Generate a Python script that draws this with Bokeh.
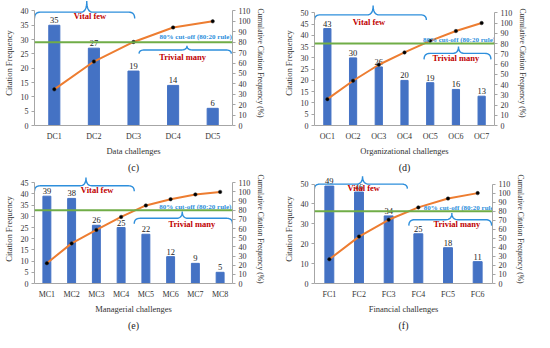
import numpy as np
from bokeh.plotting import figure
from bokeh.models import Range1d, LinearAxis, FixedTicker, Title, FactorRange, Span
from bokeh.layouts import column, row
from bokeh.embed import file_html
from bokeh.resources import INLINE
from bokeh.core.properties import value

# ---------------- data ----------------
dc_cats = ["DC1", "DC2", "DC3", "DC4", "DC5"]
dc_freq = [35, 27, 19, 14, 6]
dc_cum = [34.7, 61.4, 80.2, 94.1, 100]

oc_cats = ["OC1", "OC2", "OC3", "OC4", "OC5", "OC6", "OC7"]
oc_freq = [43, 30, 26, 20, 19, 16, 13]
oc_cum = [25.7, 43.7, 59.3, 71.3, 82.6, 92.2, 100]

mc_cats = ["MC1", "MC2", "MC3", "MC4", "MC5", "MC6", "MC7", "MC8"]
mc_freq = [39, 38, 26, 25, 22, 12, 9, 5]
mc_cum = [22.2, 43.8, 58.5, 72.7, 85.2, 92.0, 97.2, 100]

fc_cats = ["FC1", "FC2", "FC3", "FC4", "FC5", "FC6"]
fc_freq = [49, 46, 34, 25, 18, 11]
fc_cum = [26.8, 51.9, 70.5, 84.2, 94.0, 100]

cutoff = 80
left_ticks_c = [0, 5, 10, 15, 20, 25, 30, 35, 40]
left_ticks_d = [0, 5, 10, 15, 20, 25, 30, 35, 40, 45, 50]
left_ticks_e = [0, 5, 10, 15, 20, 25, 30, 35, 40, 45]
left_ticks_f = [0, 10, 20, 30, 40, 50]
right_ticks = [0, 10, 20, 30, 40, 50, 60, 70, 80, 90, 100, 110]

# ---------------- style ----------------
FONT = "Liberation Serif"
BAR = "#4472C4"
LINE = "#ED7D31"
GREEN = "#70AD47"
BLUE = "#2E8FDC"
RED = "#C00000"
AX = "#A6A6A6"
TXT = "#333333"


def bez(p0, p1, p2, n=10):
    t = np.linspace(0, 1, n)
    x = (1 - t) ** 2 * p0[0] + 2 * (1 - t) * t * p1[0] + t ** 2 * p2[0]
    y = (1 - t) ** 2 * p0[1] + 2 * (1 - t) * t * p1[1] + t ** 2 * p2[1]
    return list(x), list(y)


def brace(x0, x1, xm, yh, yend, ytip, rx):
    xs, ys = [], []
    for seg in [
        bez((x0, yend), (x0, yh), (x0 + rx, yh)),
        bez((xm - rx, yh), (xm, yh), (xm, ytip)),
        bez((xm, ytip), (xm, yh), (xm + rx, yh)),
        bez((x1 - rx, yh), (x1, yh), (x1, yend)),
    ]:
        xs += seg[0]
        ys += seg[1]
    return xs, ys


def style_axis(ax):
    ax.axis_line_color = AX
    ax.major_tick_line_color = AX
    ax.minor_tick_line_color = None
    ax.major_tick_in = 0
    ax.major_tick_out = 3
    ax.major_label_standoff = 3
    ax.major_label_text_font = FONT
    ax.major_label_text_font_size = "8px"
    ax.major_label_text_color = TXT
    ax.axis_label_text_font = FONT
    ax.axis_label_text_font_style = "normal"
    ax.axis_label_text_font_size = "8.5px"
    ax.axis_label_text_color = TXT
    ax.axis_label_standoff = 4


def panel(cats, freq, cum, lticks, xlabel, tag, W, H, bl, br, bb, pct_end,
          bw, vital, trivial, cut_xy):
    n = len(cats)
    lmax = lticks[-1]
    p = figure(width=W, height=H, x_range=FactorRange(*cats, range_padding=0),
               y_range=Range1d(0, lmax * pct_end / 110.0),
               output_backend="svg", toolbar_location=None,
               min_border_left=bl, min_border_right=br, min_border_top=0,
               min_border_bottom=bb, outline_line_color=None,
               background_fill_color="white", border_fill_color="white")
    p.extra_y_ranges = {"pct": Range1d(0, pct_end)}
    p.xgrid.visible = False
    p.ygrid.visible = False

    p.vbar(x=cats, top=freq, width=bw, color=BAR)
    p.text(x=cats, y=freq, text=[str(v) for v in freq], y_offset=-2,
           text_align="center", text_baseline="bottom",
           text_font=value(FONT), text_font_size="8.5px", text_color="#222222")

    p.add_layout(Span(location=cutoff, dimension="width", y_range_name="pct",
                      line_color=GREEN, line_width=2))
    p.line(x=cats, y=cum, y_range_name="pct", line_color=LINE, line_width=2)
    p.scatter(x=cats, y=cum, y_range_name="pct", size=3.5, fill_color="black",
              line_color="#222222", line_width=0.5)

    fw = W - bl - br
    rx = 6.0 / (fw / n)
    for (x0, x1, xm, yh, yend, ytip, tx, ty, label, fs) in [
        vital + ("Vital few", "8.5px"),
        trivial + ("Trivial many", "8.5px"),
    ]:
        bx, by = brace(x0, x1, xm, yh, yend, ytip, rx)
        p.line(x=bx, y=by, y_range_name="pct", line_color=BLUE, line_width=1.4)
        p.text(x=[tx], y=[ty], text=[label], y_range_name="pct",
               text_align="center", text_baseline="middle",
               text_font=value(FONT), text_font_size=fs,
               text_font_style="bold", text_color=RED)
    p.text(x=[cut_xy[0]], y=[cut_xy[1]], text=["80% cut-off (80:20 rule)"],
           y_range_name="pct", text_align="center", text_baseline="middle",
           text_font=value(FONT), text_font_size="7px",
           text_font_style="bold", text_color=BLUE)

    # axes
    style_axis(p.xaxis[0])
    p.xaxis.major_tick_out = 0
    p.xaxis.major_label_standoff = 6
    p.xaxis.axis_label = xlabel
    p.xaxis.axis_label_standoff = 2

    ly = p.yaxis[0]
    style_axis(ly)
    ly.ticker = FixedTicker(ticks=lticks)
    ly.bounds = (0, lmax)
    ly.axis_label = "Citation Frequency"

    ry = LinearAxis(y_range_name="pct", ticker=FixedTicker(ticks=right_ticks),
                    bounds=(0, 110),
                    axis_label="Cumulative Citation Frequency (%)")
    style_axis(ry)
    ry.axis_label_standoff = 2
    ry.axis_label_text_font_size = "7.6px"
    p.add_layout(ry, "right")

    p.add_layout(Title(text=tag, align="center", text_font=FONT,
                       text_font_size="10px", text_font_style="normal",
                       text_color="#222222", standoff=3), "below")
    return p


pc = panel(dc_cats, dc_freq, dc_cum, left_ticks_c, "Data challenges", "(c)",
           267, 174, 32, 33, 43, 120, 0.28,
           (0, 2.53, 1.32, 108.8, 102.7, 119.5, 1.4, 104.8),
           (2.64, 4.97, 3.85, 72.5, 69, 76.5, 3.74, 66),
           (4.07, 84.5))
pd_ = panel(oc_cats, oc_freq, oc_cum, left_ticks_d, "Organizational challenges", "(d)",
            267, 174, 47, 40, 43, 122, 0.28,
            (0, 4.35, 2.28, 108, 103, 117, 2.12, 101),
            (4.26, 6.86, 5.6, 70.4, 64.5, 77, 5.5, 65.7),
            (5.62, 83.4))
pe = panel(mc_cats, mc_freq, mc_cum, left_ticks_e, "Managerial challenges", "(e)",
           267, 158, 34, 34, 44, 119, 0.32,
           (0, 4.03, 2.08, 106.7, 100.7, 115.6, 2.53, 101.7),
           (4.03, 8.0, 5.97, 71.2, 65.3, 78.5, 6.36, 65.3),
           (6.5, 83.5))
pf = panel(fc_cats, fc_freq, fc_cum, left_ticks_f, "Financial challenges", "(f)",
           267, 158, 47, 42, 44, 120.6, 0.30,
           (0, 3.13, 1.62, 110, 105, 118.7, 1.66, 106),
           (3.18, 5.97, 4.63, 70.6, 64, 78, 4.8, 65.6),
           (4.9, 84))

layout = column(row(pc, pd_), row(pe, pf))
open("out.html", "w").write(file_html(layout, INLINE))
